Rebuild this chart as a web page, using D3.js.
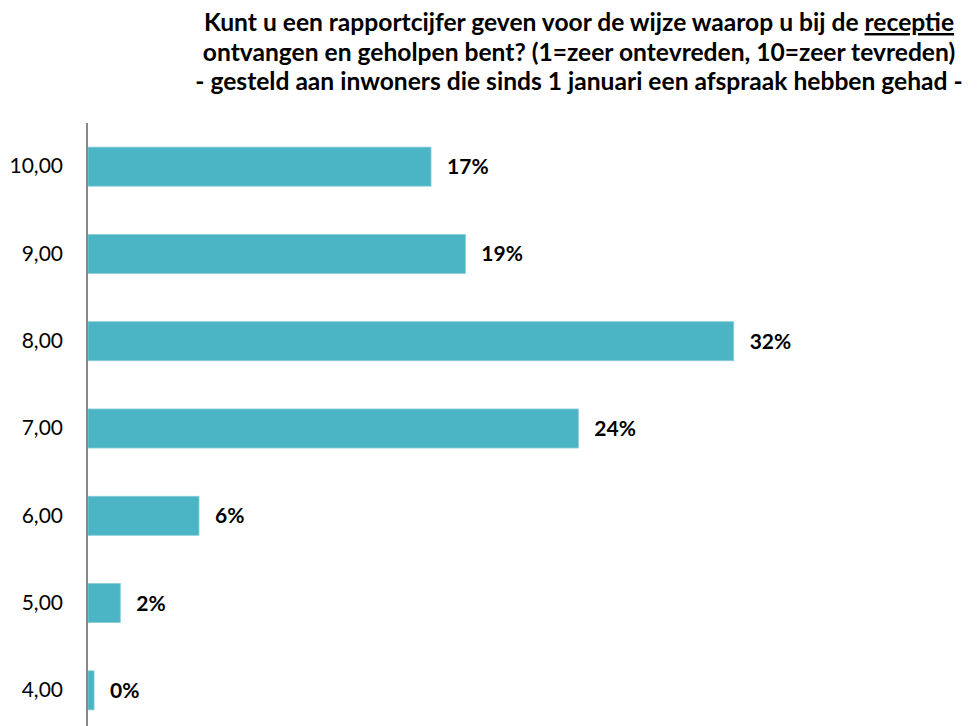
<!DOCTYPE html>
<html>
<head>
<meta charset="utf-8">
<script src="https://cdn.jsdelivr.net/npm/d3@7"></script>
<style>
  html, body { margin: 0; padding: 0; background: #ffffff; }
  svg { display: block; }
  text { font-family: Lato, "Open Sans", "Noto Sans", sans-serif; fill: #000; }
</style>
</head>
<body>
<svg id="chart" width="979" height="726"></svg>
<script>
// Score categories (top to bottom) and share of respondents per score (%)
const categories = ["10,00", "9,00", "8,00", "7,00", "6,00", "5,00", "4,00"];
const shares = [17.0, 18.7, 32.0, 24.3, 5.5, 1.6, 0.3];

const titleLines = [
  ["Kunt u een rapportcijfer geven voor de wijze waarop u bij de ", "receptie"],
  ["ontvangen en geholpen bent? (1=zeer ontevreden, 10=zeer tevreden)"],
  ["- gesteld aan inwoners die sinds 1 januari een afspraak hebben gehad -"]
];

const data = categories.map((c, i) => ({ cat: c, value: shares[i] }));

const svg = d3.select("#chart");
const W = 979, H = 726;
const margin = { left: 88, top: 123 };

const x = d3.scaleLinear().domain([0, 32]).range([margin.left, 733.7]);
const y = d3.scaleBand()
  .domain(categories)
  .range([margin.top, 734])
  .paddingInner(0.553)
  .paddingOuter(0.2765);

// Title
const title = svg.append("g").attr("class", "title");
const titleY = [31, 61, 90];
titleLines.forEach((parts, i) => {
  const t = title.append("text")
    .attr("x", 579)
    .attr("y", titleY[i])
    .attr("text-anchor", "middle")
    .style("font-weight", "700")
    .style("font-size", "24.6px");
  parts.forEach((p, j) => {
    const ts = t.append("tspan").text(p);
    if (j === 1) ts.style("text-decoration", "underline");
  });
});

// Bars
svg.append("g").selectAll("rect")
  .data(data)
  .join("rect")
  .attr("x", x(0))
  .attr("y", d => y(d.cat))
  .attr("width", d => x(d.value) - x(0))
  .attr("height", y.bandwidth())
  .attr("fill", "#4bb5c5")
  .attr("stroke", "#86ccd7")
  .attr("stroke-width", 0.8);

// Value labels
svg.append("g").selectAll("text")
  .data(data)
  .join("text")
  .attr("x", d => x(d.value) + 16)
  .attr("y", d => y(d.cat) + y.bandwidth() / 2)
  .attr("dy", "0.36em")
  .style("font-weight", "700")
  .style("font-size", "21px")
  .text(d => Math.round(d.value) + "%");

// Category axis
const axis = d3.axisLeft(y).tickSize(0).tickPadding(24);
const gAxis = svg.append("g")
  .attr("transform", `translate(${margin.left - 1},0)`)
  .call(axis);
gAxis.select(".domain")
  .attr("d", `M0,${margin.top}V${H}`)
  .attr("stroke", "#898989")
  .attr("stroke-width", 2);
gAxis.selectAll(".tick text")
  .style("font-family", "Lato, 'Open Sans', sans-serif")
  .style("font-size", "21px")
  .attr("fill", "#000");
</script>
</body>
</html>
